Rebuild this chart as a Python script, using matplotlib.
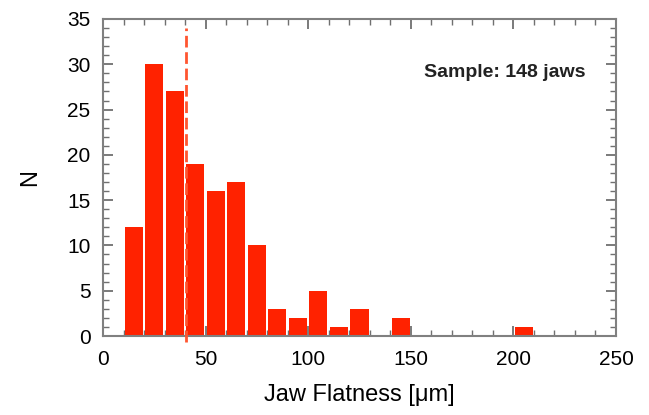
import numpy as np
import matplotlib.pyplot as plt

plt.rcParams['font.family'] = ['Liberation Sans', 'DejaVu Sans']

# histogram bins (lower edge, width 10 um) and counts
bin_left = [10, 20, 30, 40, 50, 60, 70, 80, 90, 100, 110, 120, 130, 140, 150, 160, 170, 180, 190, 200]
counts = [12, 30, 27, 19, 16, 17, 10, 3, 2, 5, 1, 3, 0, 2, 0, 0, 0, 0, 0, 1]
cut_value = 40.3
sample_text = 'Sample: 148 jaws'

fig = plt.figure(figsize=(6.49, 4.15), dpi=100)
ax = fig.add_axes([103 / 649, 1 - 336 / 415, 513 / 649, 317 / 415])

centers = np.array(bin_left) + 5
ax.bar(centers, counts, width=8.8, color='#ff2200', edgecolor='none', zorder=2)
ax.plot([cut_value, cut_value], [-0.7, 34.0], color='#ff5530', lw=2,
        dashes=(4.2, 1.7), clip_on=False, zorder=3)

ax.set_xlim(0, 250)
ax.set_ylim(0, 35)
ax.set_xticks(np.arange(0, 251, 50))
ax.set_xticks(np.arange(0, 251, 10), minor=True)
ax.set_yticks(np.arange(0, 36, 5))
ax.set_yticks(np.arange(0, 36, 1), minor=True)
ax.tick_params(which='both', direction='in', top=True, right=True, color='#707070')
ax.tick_params(which='major', length=7, width=1.3, labelsize=15)
ax.tick_params(axis='x', which='major', pad=10)
ax.tick_params(axis='y', which='major', pad=9)
ax.tick_params(which='minor', length=4, width=1.0)
for s in ax.spines.values():
    s.set_color('#808080')
    s.set_linewidth(1.5)

ax.set_xlabel('Jaw Flatness [μm]', fontsize=17, labelpad=11)
ax.set_ylabel('N', fontsize=17, labelpad=19)
ax.text(235, 29.1, sample_text, ha='right', va='center', fontsize=14,
        fontweight='bold', color='#222222')

fig.savefig('out.png', dpi=100)
